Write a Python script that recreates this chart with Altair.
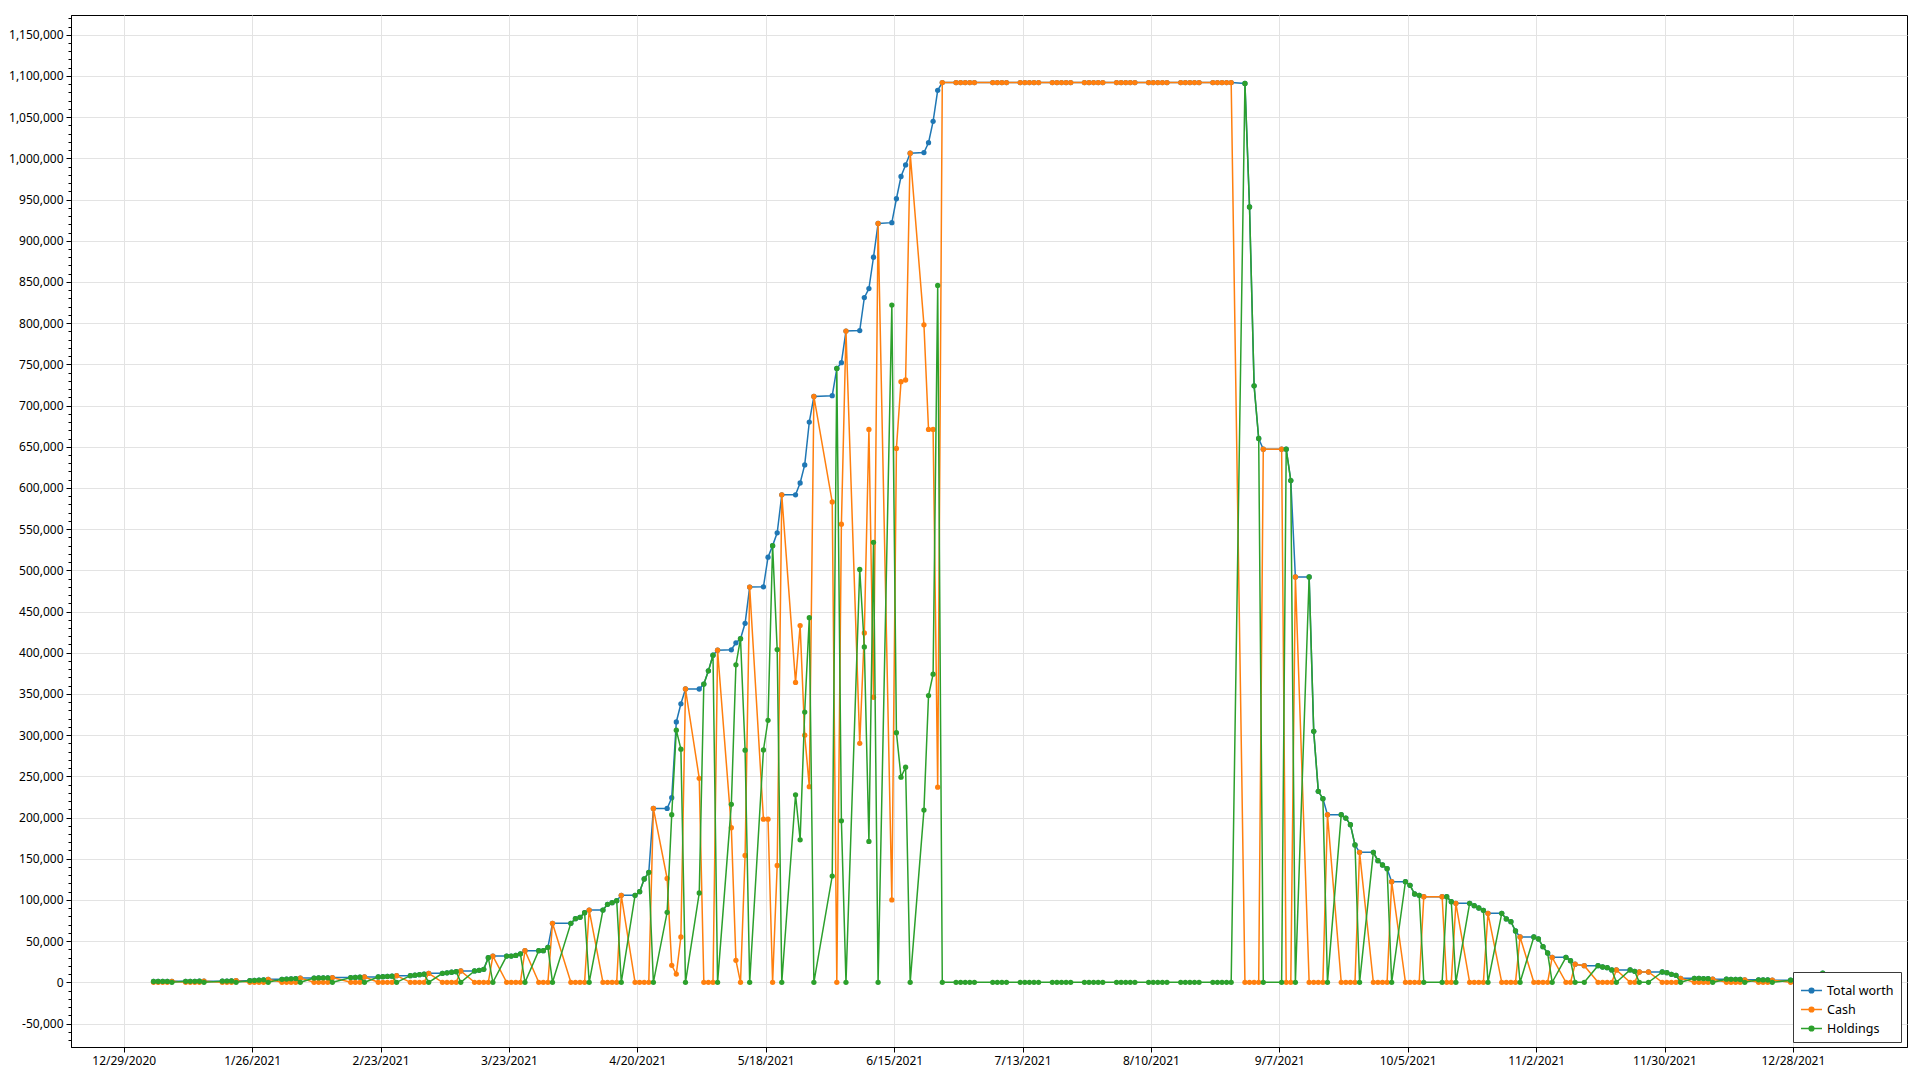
import altair as alt
import pandas as pd

# ---------------- data ----------------
holidays = ["2021-01-01", "2021-01-18", "2021-02-15", "2021-04-02", "2021-05-31",
            "2021-07-05", "2021-09-06", "2021-10-11", "2021-11-11", "2021-11-25",
            "2021-12-24"]
trading_days = [d.strftime("%Y-%m-%d") for d in pd.bdate_range("2021-01-04", "2022-01-03")
                if d.strftime("%Y-%m-%d") not in holidays]

# values in thousands, week by week
total_k = [
    1.0, 1.0, 1.05, 1.1, 1.2,
    1.2, 1.2, 1.25, 1.3, 1.4,
    1.4, 1.5, 1.6, 2.0,
    2.0, 2.3, 2.6, 3.0, 3.6,
    3.6, 3.9, 4.2, 4.6, 5.2,
    5.2, 5.3, 5.4, 5.5, 5.7,
    5.7, 6.0, 6.2, 6.5,
    6.5, 6.8, 7.1, 7.5, 8.1,
    8.1, 8.7, 9.3, 9.9, 10.9,
    10.9, 11.5, 12.2, 12.9, 13.8,
    13.8, 14.5, 15.8, 29.9, 31.9,
    31.9, 31.9, 32.6, 34.6, 38.4,
    38.4, 38.4, 42.5, 71.6,
    71.6, 77.2, 78.9, 84.5, 87.7,
    87.7, 94.6, 96.6, 99.1, 105.6,
    105.6, 110.0, 125.4, 133.5, 211.0,
    211.0, 224.0, 316.0, 338.0, 356.0,
    356.0, 362.0, 378.0, 397.0, 403.0,
    403.6, 412.0, 417.0, 435.7, 479.7,
    480.0, 516.0, 530.0, 545.6, 591.6,
    591.6, 606.0, 628.0, 680.0, 711.0,
    712.0, 745.0, 752.0, 790.4,
    791.0, 831.0, 842.0, 880.0, 921.0,
    922.0, 951.0, 978.0, 992.0, 1006.3,
    1007.0, 1019.0, 1045.0, 1082.6, 1092.0,
    1092.0, 1092.0, 1092.0, 1092.0, 1092.0,
    1092.0, 1092.0, 1092.0, 1092.0,
    1092.0, 1092.0, 1092.0, 1092.0, 1092.0,
    1092.0, 1092.0, 1092.0, 1092.0, 1092.0,
    1092.0, 1092.0, 1092.0, 1092.0, 1092.0,
    1092.0, 1092.0, 1092.0, 1092.0, 1092.0,
    1092.0, 1092.0, 1092.0, 1092.0, 1092.0,
    1092.0, 1092.0, 1092.0, 1092.0, 1092.0,
    1092.0, 1092.0, 1092.0, 1092.0, 1092.0,
    1091.0, 941.0, 724.0, 660.0, 647.0,
    647.0, 647.0, 609.0, 492.0,
    492.0, 304.6, 231.8, 222.9, 203.5,
    203.5, 199.4, 191.3, 166.7, 157.8,
    157.8, 147.6, 142.4, 137.9, 122.2,
    122.2, 117.7, 107.2, 105.6, 104.0,
    104.0, 104.0, 97.9, 95.9,
    95.9, 93.0, 90.2, 87.4, 83.7,
    83.7, 76.9, 73.6, 62.3, 55.0,
    55.0, 52.6, 43.3, 35.6, 30.3,
    30.3, 26.3, 22.0, 20.2,
    20.2, 18.6, 17.8, 15.0, 15.0,
    15.0, 13.3, 12.5, 12.5,
    12.5, 11.7, 9.7, 8.5, 4.9,
    4.9, 4.8, 4.6, 4.4, 3.8,
    3.8, 3.7, 3.6, 3.4, 3.0,
    3.0, 2.9, 2.8, 2.6,
    2.6, 2.5, 2.4, 2.3, 2.2,
    11.0,
]

cash_k = [
    0, 0, 0, 0, 1.2,
    0, 0, 0, 0, 1.4,
    0, 0, 0, 2.0,
    0, 0, 0, 0, 3.6,
    0, 0, 0, 0, 5.2,
    0, 0, 0, 0, 5.7,
    0, 0, 0, 6.5,
    0, 0, 0, 0, 8.1,
    0, 0, 0, 0, 10.9,
    0, 0, 0, 0, 13.8,
    0, 0, 0, 0, 31.9,
    0, 0, 0, 0, 38.4,
    0, 0, 0, 71.6,
    0, 0, 0, 0, 87.7,
    0, 0, 0, 0, 105.6,
    0, 0, 0, 0, 211.0,
    126.0, 20.6, 10.0, 55.0, 356.0,
    247.6, 0, 0, 0, 403.0,
    187.6, 26.7, 0, 154.0, 479.7,
    198.0, 198.0, 0, 141.8, 591.6,
    364.0, 433.0, 300.0, 237.5, 711.0,
    583.0, 0, 556.0, 790.4,
    290.0, 424.0, 671.0, 346.0, 921.0,
    100.0, 648.0, 729.0, 731.0, 1006.3,
    798.0, 671.0, 671.0, 236.8, 1092.0,
    1092.0, 1092.0, 1092.0, 1092.0, 1092.0,
    1092.0, 1092.0, 1092.0, 1092.0,
    1092.0, 1092.0, 1092.0, 1092.0, 1092.0,
    1092.0, 1092.0, 1092.0, 1092.0, 1092.0,
    1092.0, 1092.0, 1092.0, 1092.0, 1092.0,
    1092.0, 1092.0, 1092.0, 1092.0, 1092.0,
    1092.0, 1092.0, 1092.0, 1092.0, 1092.0,
    1092.0, 1092.0, 1092.0, 1092.0, 1092.0,
    1092.0, 1092.0, 1092.0, 1092.0, 1092.0,
    0, 0, 0, 0, 647.0,
    647.0, 0, 0, 492.0,
    0, 0, 0, 0, 203.5,
    0, 0, 0, 0, 157.8,
    0, 0, 0, 0, 122.2,
    0, 0, 0, 0, 104.0,
    104.0, 0, 0, 95.9,
    0, 0, 0, 0, 83.7,
    0, 0, 0, 0, 55.0,
    0, 0, 0, 0, 30.3,
    0, 0, 22.0, 20.2,
    0, 0, 0, 0, 15.0,
    0, 0, 12.5, 12.5,
    0, 0, 0, 0, 4.9,
    0, 0, 0, 0, 3.8,
    0, 0, 0, 0, 3.0,
    0, 0, 0, 2.6,
    0, 0, 0, 0, 2.2,
    0,
]

holdings_k = [
    1.0, 1.0, 1.05, 1.1, 0,
    1.2, 1.2, 1.25, 1.3, 0,
    1.4, 1.5, 1.6, 0,
    2.0, 2.3, 2.6, 3.0, 0,
    3.6, 3.9, 4.2, 4.6, 0,
    5.2, 5.3, 5.4, 5.5, 0,
    5.7, 6.0, 6.2, 0,
    6.5, 6.8, 7.1, 7.5, 0,
    8.1, 8.7, 9.3, 9.9, 0,
    10.9, 11.5, 12.2, 12.9, 0,
    13.8, 14.5, 15.8, 29.9, 0,
    31.9, 31.9, 32.6, 34.6, 0,
    38.4, 38.4, 42.5, 0,
    71.6, 77.2, 78.9, 84.5, 0,
    87.7, 94.6, 96.6, 99.1, 0,
    105.6, 110.0, 125.4, 133.5, 0,
    85.0, 203.4, 306.0, 283.0, 0,
    108.4, 362.0, 378.0, 397.0, 0,
    216.0, 385.3, 417.0, 281.7, 0,
    282.0, 318.0, 530.0, 403.8, 0,
    227.6, 173.0, 328.0, 442.5, 0,
    129.0, 745.0, 196.0, 0,
    501.0, 407.0, 171.0, 534.0, 0,
    822.0, 303.0, 249.0, 261.0, 0,
    209.0, 348.0, 374.0, 845.8, 0,
    0, 0, 0, 0, 0,
    0, 0, 0, 0,
    0, 0, 0, 0, 0,
    0, 0, 0, 0, 0,
    0, 0, 0, 0, 0,
    0, 0, 0, 0, 0,
    0, 0, 0, 0, 0,
    0, 0, 0, 0, 0,
    0, 0, 0, 0, 0,
    1091.0, 941.0, 724.0, 660.0, 0,
    0, 647.0, 609.0, 0,
    492.0, 304.6, 231.8, 222.9, 0,
    203.5, 199.4, 191.3, 166.7, 0,
    157.8, 147.6, 142.4, 137.9, 0,
    122.2, 117.7, 107.2, 105.6, 0,
    0, 104.0, 97.9, 0,
    95.9, 93.0, 90.2, 87.4, 0,
    83.7, 76.9, 73.6, 62.3, 0,
    55.0, 52.6, 43.3, 35.6, 0,
    30.3, 26.3, 0, 0,
    20.2, 18.6, 17.8, 15.0, 0,
    15.0, 13.3, 0, 0,
    12.5, 11.7, 9.7, 8.5, 0,
    4.9, 4.8, 4.6, 4.4, 0,
    3.8, 3.7, 3.6, 3.4, 0,
    3.0, 2.9, 2.8, 0,
    2.6, 2.5, 2.4, 2.3, 0,
    11.0,
]

series_names = ["Total worth", "Cash", "Holdings"]
series_colors = ["#1f77b4", "#ff7f0e", "#2ca02c"]

x_tick_dates = [(2020, 12, 29), (2021, 1, 26), (2021, 2, 23), (2021, 3, 23), (2021, 4, 20),
                (2021, 5, 18), (2021, 6, 15), (2021, 7, 13), (2021, 8, 10), (2021, 9, 7),
                (2021, 10, 5), (2021, 11, 2), (2021, 11, 30), (2021, 12, 28)]
y_major = list(range(-50000, 1150001, 50000))
y_minor = list(range(-70000, 1170001, 10000))

assert len(total_k) == len(trading_days) == len(cash_k) == len(holdings_k), (
    len(total_k), len(cash_k), len(holdings_k), len(trading_days))

rows = []
for name, vals in zip(series_names, [total_k, cash_k, holdings_k]):
    for d, v in zip(trading_days, vals):
        rows.append({"date": d + "T12:00:00", "value": v * 1000, "series": name})
df = pd.DataFrame(rows)

# ---------------- chart ----------------
FONT = "Noto Sans"
x_scale = alt.Scale(domain=[alt.DateTime(year=2020, month=12, date=17, hours=12),
                            alt.DateTime(year=2022, month=1, date=21, hours=21)])
y_scale = alt.Scale(domain=[-78500, 1174000], nice=False, zero=False)

legend_symbol = ("M-1,0L1,0M-0.22,0A0.22,0.22,0,1,1,0.22,0A0.22,0.22,0,1,1,-0.22,0Z")
legend = alt.Legend(title=None, orient="none", legendX=1722, legendY=957,
                    fillColor="white", strokeColor="#3a3a3a", padding=7,
                    symbolType=legend_symbol, symbolSize=440, symbolStrokeWidth=1.6,
                    labelFont=FONT, labelFontSize=12.5, labelColor="#000",
                    rowPadding=1, labelOffset=4)

color = alt.Color("series:N",
                  scale=alt.Scale(domain=series_names, range=series_colors),
                  legend=legend)

x_enc = alt.X("date:T", scale=x_scale,
              axis=alt.Axis(values=[alt.DateTime(year=y, month=m, date=d) for y, m, d in x_tick_dates],
                            format="%-m/%-d/%Y", title=None, grid=True, tickSize=5,
                            labelPadding=3, labelFlush=False, labelOverlap=False))
y_enc = alt.Y("value:Q", scale=y_scale,
              axis=alt.Axis(values=y_major, title=None, tickSize=5, labelPadding=3,
                            labelExpr="replace(format(datum.value, ','), '\u2212', '-')"))


def series_layer(name):
    return alt.Chart(df).transform_filter(alt.datum.series == name).mark_line(
        strokeWidth=1.5,
        point=alt.OverlayMarkDef(filled=True, size=28),
    ).encode(x=x_enc, y=y_enc, color=color, order="date:T")


main = alt.layer(*[series_layer(n) for n in series_names])

minor = alt.Chart(df).mark_point(opacity=0).encode(
    y=alt.Y("value:Q", scale=y_scale,
            axis=alt.Axis(orient="left", values=y_minor, labels=False, grid=False,
                          domain=False, tickSize=3, title=None)))

chart = alt.layer(main, minor).resolve_axis(y="independent").properties(
    width=1836, height=1032,
    autosize=alt.AutoSizeParams(type="none"),
    padding={"left": 63, "top": 7, "right": 4, "bottom": 22},
).configure_view(stroke="#000", strokeWidth=1).configure_axis(
    domainColor="#000", tickColor="#000", gridColor="#e3e3e3", gridWidth=1,
    labelFont=FONT, labelFontSize=12, labelColor="#000",
)

chart.save("out.html", embed_options={"renderer": "svg", "actions": False})
